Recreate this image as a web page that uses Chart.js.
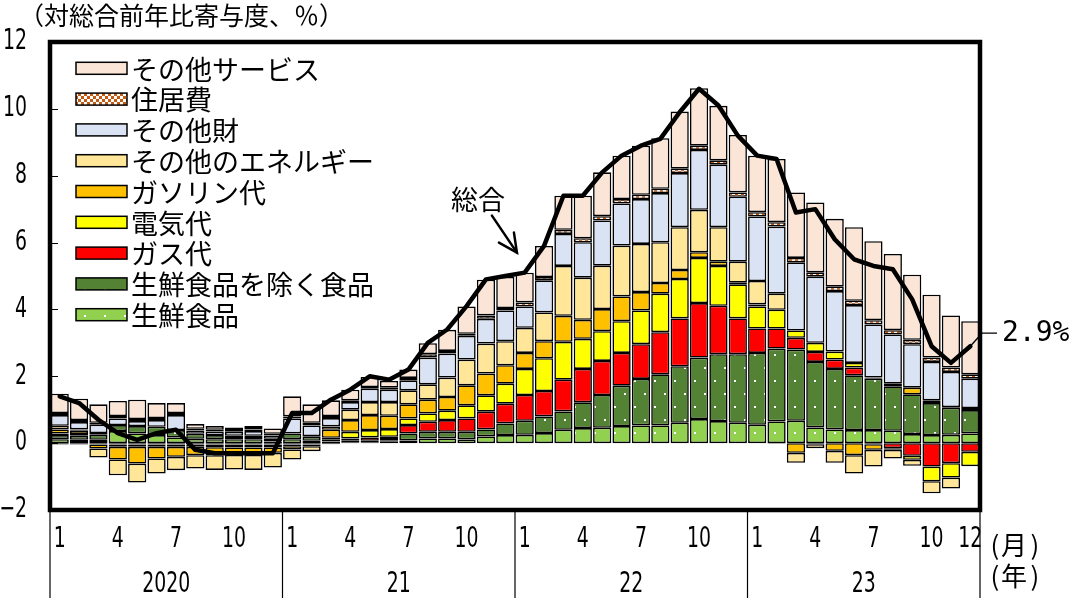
<!DOCTYPE html>
<html><head><meta charset="utf-8">
<script src="https://cdn.jsdelivr.net/npm/chart.js@4/dist/chart.umd.min.js"></script>
<style>html,body{margin:0;padding:0;background:#fff;}canvas{display:block;}</style>
</head><body>
<canvas id="c" width="1073" height="609"></canvas>
<script>
// ---------------- data ----------------
const yearLabels = ['2020', '21', '22', '23'];
const monthTickLabels = [1, 4, 7, 10];
const lastLabel = '2.9%';
const yAxisTitle = '（対総合前年比寄与度、％）';
const lineLabel = '総合';

const freshFood = [
0.12,0.10,0.10,0.36,0.29,0.24,0.17,0.13,0.12,0.12,0.12,0.05,
0.12,0.07,0.05,0.03,0.03,0.04,0.08,0.14,0.14,0.11,0.20,0.24,
0.25,0.30,0.40,0.45,0.46,0.51,0.53,0.53,0.61,0.72,0.66,0.61,
0.55,0.65,0.67,0.47,0.41,0.39,0.39,0.37,0.27,0.24,0.25,0.29];
const foodExFresh = [
0.12,0.12,0.15,0.18,0.22,0.25,0.22,0.15,0.12,0.10,0.10,0.08,
0.17,0.12,0.07,0.04,0.04,0.05,0.21,0.20,0.20,0.23,0.21,0.35,
0.42,0.50,0.55,0.77,0.98,1.21,1.39,1.53,1.69,1.84,2.00,2.05,
2.15,2.18,2.13,1.96,1.81,1.64,1.54,1.33,1.19,0.96,0.81,0.70];
const gasBill = [
-0.04,-0.04,-0.04,-0.04,-0.04,-0.04,-0.04,-0.04,-0.04,-0.04,-0.04,-0.04,
-0.04,-0.04,-0.03,0.07,0.10,0.10,0.25,0.30,0.35,0.40,0.53,0.59,
0.77,0.76,0.95,1.00,1.02,0.98,1.04,1.26,1.43,1.63,1.45,1.07,
0.73,0.60,0.35,0.30,0.28,0.23,-0.03,-0.15,-0.38,-0.70,-0.60,-0.26];
const electricity = [
0.05,0.05,0.05,-0.07,-0.07,-0.07,-0.07,-0.07,-0.08,-0.09,-0.09,-0.09,
-0.05,-0.05,0.04,0.20,0.22,0.23,0.20,0.25,0.28,0.39,0.49,0.60,
0.78,0.98,1.13,0.90,0.89,0.95,1.01,1.15,1.18,1.35,1.19,1.02,
0.66,0.56,0.22,0.27,0.24,0.14,0.03,-0.05,-0.12,-0.44,-0.43,-0.43];
const gasoline = [
0.12,0.10,-0.12,-0.38,-0.50,-0.35,-0.30,-0.25,-0.24,-0.22,-0.22,-0.16,
-0.10,0.02,0.24,0.35,0.45,0.40,0.42,0.41,0.41,0.60,0.65,0.55,
0.48,0.51,0.78,0.57,0.66,0.74,0.55,0.32,0.27,0.17,0.13,0.05,
0.06,-0.02,-0.29,-0.03,-0.23,-0.36,-0.17,0.08,0.20,0.08,0.02,0.06];
const otherEnergy = [
0.11,0.04,-0.27,-0.47,-0.57,-0.45,-0.40,-0.40,-0.44,-0.44,-0.45,-0.44,
-0.30,-0.15,0.10,0.31,0.39,0.41,0.42,0.46,0.58,0.77,0.90,0.72,
0.75,0.86,1.49,1.26,1.30,1.52,1.44,1.22,1.28,1.27,1.03,0.63,
0.70,0.48,-0.30,-0.12,-0.36,-0.55,-0.50,-0.26,-0.18,-0.36,-0.33,0];
const otherGoods = [
0.32,0.22,0.25,0.20,0.15,0.20,0.45,0.10,0.11,0.12,0.14,0.10,
0.45,0.32,0.25,0.23,0.40,0.37,0.30,0.80,0.72,0.71,0.74,0.92,
0.64,0.96,0.96,1.06,1.35,1.26,1.34,1.47,1.62,1.79,1.87,1.94,
1.93,2.01,2.04,1.98,1.81,1.73,1.59,1.47,1.30,1.15,1.05,0.88];
const housing = [
0.06,0.06,0.06,0.07,0.06,0.06,0.06,0.05,0.05,0.05,0.05,0.05,
0.06,0.08,0.06,0.05,0.05,0.06,0.07,0.10,0.08,0.06,0.10,0.07,
0.12,0.10,0.12,0.12,0.13,0.13,0.13,0.13,0.13,0.13,0.13,0.13,
0.13,0.13,0.13,0.13,0.13,0.13,0.13,0.13,0.13,0.13,0.13,0.13];
const otherServices = [
0.58,0.64,0.55,0.45,0.58,0.45,0.30,0.14,0.11,0.08,0.10,0.16,
0.60,0.55,0.47,0.32,0.30,0.20,0.25,0.33,0.63,0.82,1.07,0.93,
0.89,0.93,1.02,1.27,1.31,1.30,1.47,1.51,1.71,1.72,1.63,1.72,
1.69,1.89,1.96,2.09,2.03,2.20,2.36,2.28,1.95,1.88,1.56,1.59];
const headline = [
1.4,1.2,0.7,0.3,0.1,0.3,0.4,-0.2,-0.3,-0.3,-0.3,-0.3,
0.9,0.9,1.3,1.6,2.0,1.9,2.2,3.0,3.4,4.1,4.9,5.0,
5.1,5.9,7.4,7.4,8.1,8.6,8.9,9.1,9.9,10.6,10.1,9.2,
8.6,8.5,6.9,7.0,6.1,5.5,5.3,5.2,4.3,2.9,2.4,2.9];

// categories: year/month
const categories = [];
yearLabels.forEach(y => { for (let m = 1; m <= 12; m++) categories.push(y + '/' + m); });

// annotation anchor (category index, value)
const arrowAnchor = { index: 23.6, value: 5.7 };

// ---------------- styles ----------------
const NARROW = "'DejaVu Sans Condensed', 'DejaVu Sans', sans-serif";
const CJK = "'Noto Sans CJK JP', 'Noto Sans', sans-serif";
const MONO = "'DejaVu Sans Mono', 'Liberation Mono', monospace";

const canvas = document.getElementById('c');
const ctx = canvas.getContext('2d');

function dotPattern(bg) {
  const t = document.createElement('canvas'); t.width = 20; t.height = 26;
  const g = t.getContext('2d');
  g.fillStyle = bg; g.fillRect(0, 0, 20, 26);
  g.fillStyle = '#ffffff'; g.fillRect(4, 3, 2, 2); g.fillRect(14, 16, 2, 2);
  return ctx.createPattern(t, 'repeat');
}
function checkerPattern(bg) {
  const t = document.createElement('canvas'); t.width = 6; t.height = 6;
  const g = t.getContext('2d');
  g.fillStyle = bg; g.fillRect(0, 0, 6, 6);
  g.fillStyle = '#ffffff'; g.fillRect(0, 0, 3, 3); g.fillRect(3, 3, 3, 3);
  return ctx.createPattern(t, 'repeat');
}

const clean = arr => arr.map(v => (v === 0 ? null : v));
const barBase = { type: 'bar', borderColor: '#000', borderWidth: 1.6, borderSkipped: false,
  barPercentage: 0.94, categoryPercentage: 1.0, order: 1, stack: 'cpi' };

const barDatasets = [
  { label: '生鮮食品', data: clean(freshFood), backgroundColor: dotPattern('#92D050') },
  { label: '生鮮食品を除く食品', data: clean(foodExFresh), backgroundColor: dotPattern('#548235') },
  { label: 'ガス代', data: clean(gasBill), backgroundColor: '#FF0000' },
  { label: '電気代', data: clean(electricity), backgroundColor: '#FFFF00' },
  { label: 'ガソリン代', data: clean(gasoline), backgroundColor: '#FFC000' },
  { label: 'その他のエネルギー', data: clean(otherEnergy), backgroundColor: '#FFE699' },
  { label: 'その他財', data: clean(otherGoods), backgroundColor: '#DAE3F3' },
  { label: '住居費', data: clean(housing), backgroundColor: checkerPattern('#C55A11') },
  { label: 'その他サービス', data: clean(otherServices), backgroundColor: '#FBE5D6' }
].map(d => Object.assign({}, barBase, d));

const lineDataset = { type: 'line', label: lineLabel, data: headline, borderColor: '#000',
  borderWidth: 4.5, pointRadius: 0, tension: 0, fill: false, order: 0, stack: 'total',
  borderJoinStyle: 'round', borderCapStyle: 'round' };

// narrow (horizontally compressed) digits
function narrowText(c, text, x, y, align, size) {
  c.save();
  c.font = size + 'px ' + NARROW;
  const sx = 12 / c.measureText('0').width;
  c.textAlign = align; c.textBaseline = 'middle'; c.fillStyle = '#000';
  c.translate(x, y); c.scale(sx, 1); c.fillText(text, 0, 0);
  c.restore();
}

// ---------------- plugins ----------------
const whiteBg = { id: 'whiteBg', beforeDraw(chart) {
  const c = chart.ctx; c.save(); c.fillStyle = '#fff'; c.fillRect(0, 0, chart.width, chart.height); c.restore();
}};

const decorations = { id: 'decorations', afterDraw(chart) {
  const c = chart.ctx, a = chart.chartArea, xs = chart.scales.x, ys = chart.scales.y;
  c.save();
  // y tick labels + inner tick marks
  c.strokeStyle = '#000'; c.lineWidth = 1;
  ys.ticks.forEach(t => {
    const py = ys.getPixelForValue(t.value);
    const txt = t.value < 0 ? '\u2212' + Math.abs(t.value) : String(t.value);
    narrowText(c, txt, 27, py, 'right', 28);
    if (t.value <= ys.min || t.value >= ys.max) return;
    const ry = Math.round(py) + 0.5;
    c.beginPath(); c.moveTo(a.left, ry); c.lineTo(a.left + 8, ry); c.stroke();
  });
  // x month labels
  const n = categories.length;
  for (let i = 0; i < n; i++) {
    const m = i % 12 + 1;
    if (monthTickLabels.includes(m) || i === n - 1) narrowText(c, String(m), xs.getPixelForValue(i), 540, 'center', 28);
  }
  // year separators and year labels
  const bounds = [];
  for (let k = 0; k <= yearLabels.length; k++) {
    if (k === 0) bounds.push(a.left);
    else if (k === yearLabels.length) bounds.push(a.right);
    else bounds.push((xs.getPixelForValue(12 * k - 1) + xs.getPixelForValue(12 * k)) / 2);
  }
  c.lineWidth = 1.2; c.strokeStyle = '#000';
  bounds.forEach(bx => { c.beginPath(); c.moveTo(bx, a.bottom); c.lineTo(bx, 598); c.stroke(); });
  yearLabels.forEach((y, k) => narrowText(c, y, (bounds[k] + bounds[k + 1]) / 2, 584, 'center', 29));
  // (月) (年)
  c.fillStyle = '#000'; c.textAlign = 'center'; c.textBaseline = 'middle';
  c.font = '26px ' + CJK;
  [['月', 545], ['年', 576]].forEach(([ch, yy]) => {
    c.fillText('(', 995, yy); c.fillText(ch, 1014, yy); c.fillText(')', 1035, yy);
  });
  // plot border
  c.lineWidth = 4.5; c.strokeStyle = '#000';
  c.strokeRect(a.left, a.top, a.right - a.left, a.bottom - a.top);
  // title
  c.textAlign = 'left'; c.font = '25px ' + CJK;
  c.fillText(yAxisTitle, 19, 15);
  // legend (reverse of stacking order)
  const bars = chart.data.datasets.filter(d => d.type === 'bar').slice().reverse();
  c.font = '27px ' + CJK;
  bars.forEach((d, k) => {
    const cy = a.top + 26.3 + k * 30.8;
    c.fillStyle = d.backgroundColor; c.fillRect(76, cy - 6, 51, 12);
    c.lineWidth = 1.5; c.strokeStyle = '#000'; c.strokeRect(76, cy - 6, 51, 12);
    c.fillStyle = '#000'; c.fillText(d.label, 131, cy + 1);
  });
  // 総合 arrow annotation
  const tx = xs.getPixelForValue(arrowAnchor.index), ty = ys.getPixelForValue(arrowAnchor.value);
  c.lineWidth = 2.5; c.lineCap = 'round';
  c.beginPath(); c.moveTo(tx - 25, ty - 37); c.lineTo(tx, ty); c.stroke();
  c.beginPath(); c.moveTo(tx - 18, ty - 10); c.lineTo(tx, ty); c.lineTo(tx - 3, ty - 20); c.stroke();
  c.textAlign = 'center'; c.font = '27px ' + CJK;
  c.fillText(lineLabel, tx - 39, ty - 53);
  // last value label
  const li = n - 1;
  const lx = xs.getPixelForValue(li), ly = ys.getPixelForValue(headline[li]);
  c.lineWidth = 1.3; c.lineCap = 'butt';
  c.beginPath(); c.moveTo(lx, ly); c.lineTo(a.right + 2, ly - 13); c.lineTo(a.right + 17, ly - 13); c.stroke();
  c.textAlign = 'left'; c.font = '28px ' + MONO;
  c.fillText(lastLabel, a.right + 22, ly - 12);
  c.restore();
}};

new Chart(ctx, {
  type: 'bar',
  data: { labels: categories, datasets: [...barDatasets, lineDataset] },
  options: {
    responsive: false, animation: false, devicePixelRatio: 1,
    layout: { padding: { left: 0, right: 93, top: 42, bottom: 0 } },
    plugins: { legend: { display: false }, tooltip: { enabled: false }, title: { display: false } },
    scales: {
      x: {
        stacked: true, offset: true,
        grid: { display: false }, border: { display: false },
        ticks: { display: false, autoSkip: false },
        afterFit: s => { s.height = 99; }
      },
      y: {
        stacked: true, min: -2, max: 12,
        grid: { display: false }, border: { display: false },
        ticks: { display: false, stepSize: 2 },
        afterFit: s => { s.width = 50; }
      }
    }
  },
  plugins: [whiteBg, decorations]
});
</script>
</body></html>
